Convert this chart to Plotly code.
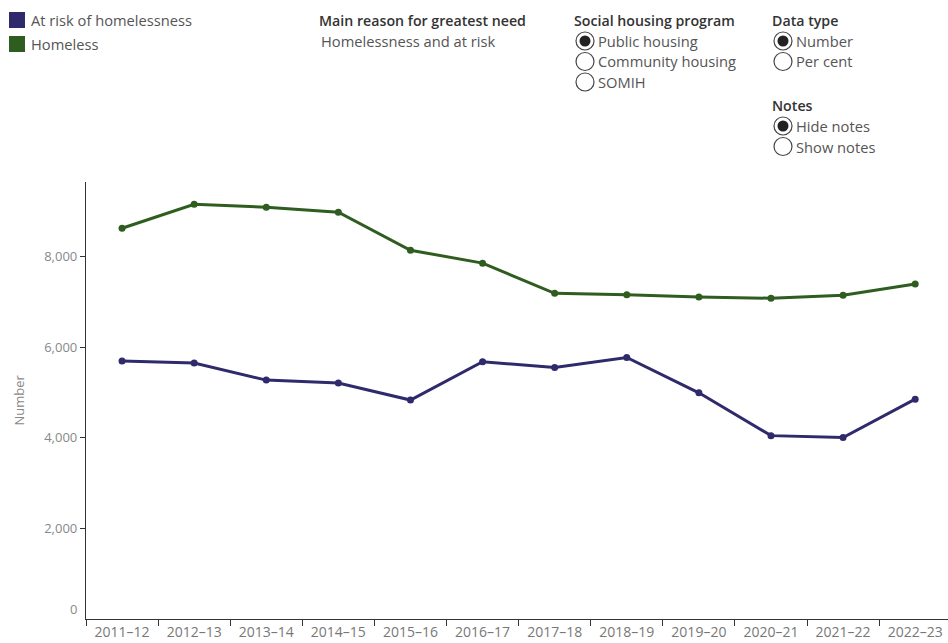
import plotly.graph_objects as go

years = ["2011–12", "2012–13", "2013–14", "2014–15", "2015–16", "2016–17",
         "2017–18", "2018–19", "2019–20", "2020–21", "2021–22", "2022–23"]
at_risk = [5690, 5645, 5270, 5205, 4830, 5675, 5550, 5770, 4990, 4045, 4005, 4850]
homeless = [8620, 9150, 9085, 8975, 8135, 7850, 7185, 7155, 7105, 7075, 7140, 7390]
y_ticks = [2000, 4000, 6000, 8000]
y_tick_text = ["2,000", "4,000", "6,000", "8,000"]

PURPLE = "#2e2a6b"
GREEN = "#2f5c1f"
FONT = "Open Sans"

W, H = 948, 643
L, R, T, B = 86, 0, 182, 24
PW, PH = W - L - R, H - T - B


def px(x):
    return (x - L) / PW


def py(y):
    return (H - B - y) / PH


fig = go.Figure()
fig.add_trace(go.Scatter(x=years, y=homeless, mode="lines+markers", name="Homeless",
                         line=dict(color=GREEN, width=3), marker=dict(size=7, color=GREEN),
                         showlegend=False))
fig.add_trace(go.Scatter(x=years, y=at_risk, mode="lines+markers", name="At risk of homelessness",
                         line=dict(color=PURPLE, width=3), marker=dict(size=7, color=PURPLE),
                         showlegend=False))

shapes = []
annotations = []


def text(x, y, s, color="#555", size=14.7, weight=None):
    f = dict(family=FONT, size=size, color=color)
    if weight:
        f["weight"] = weight
    annotations.append(dict(x=px(x), y=py(y), xref="paper", yref="paper", text=s,
                            showarrow=False, xanchor="left", yanchor="middle", font=f))


# legend
for i, (name, col) in enumerate([("At risk of homelessness", PURPLE), ("Homeless", GREEN)]):
    cy = 20 + i * 24
    shapes.append(dict(type="rect", xref="paper", yref="paper", x0=px(9), x1=px(25),
                       y0=py(cy + 8), y1=py(cy - 8), fillcolor=col, line=dict(width=0)))
    text(29, cy, name)

# filter controls
text(317, 20, "Main reason for greatest need", color="#333", size=14.2, weight=600)
text(319, 41, "Homelessness and at risk")


def radio(cx, cy, selected):
    r = 9
    shapes.append(dict(type="circle", xref="paper", yref="paper", x0=px(cx - r), x1=px(cx + r),
                       y0=py(cy + r), y1=py(cy - r), fillcolor="white",
                       line=dict(color="#444", width=1.2)))
    if selected:
        r2 = 5.5
        shapes.append(dict(type="circle", xref="paper", yref="paper", x0=px(cx - r2), x1=px(cx + r2),
                           y0=py(cy + r2), y1=py(cy - r2), fillcolor="#222", line=dict(width=0)))


text(572, 20, "Social housing program", color="#333", size=14.2, weight=600)
for i, (lab, sel) in enumerate([("Public housing", True), ("Community housing", False), ("SOMIH", False)]):
    cy = 41 + i * 20.5
    radio(585, cy, sel)
    text(596, cy, lab)

text(770, 20, "Data type", color="#333", size=14.2, weight=600)
for i, (lab, sel) in enumerate([("Number", True), ("Per cent", False)]):
    cy = 41 + i * 20.5
    radio(783, cy, sel)
    text(794, cy, lab)

text(770, 105, "Notes", color="#333", size=14.2, weight=600)
for i, (lab, sel) in enumerate([("Hide notes", True), ("Show notes", False)]):
    cy = 126 + i * 20.5
    radio(783, cy, sel)
    text(794, cy, lab)

# zero label (drawn slightly above axis like the original)
annotations.append(dict(x=px(79), y=py(609), xref="paper", yref="paper", text="0", showarrow=False,
                        xanchor="right", yanchor="middle",
                        font=dict(family=FONT, size=13, color="#888")))
# y-axis title
annotations.append(dict(x=px(18), y=0.5, xref="paper", yref="paper", text="Number", showarrow=False,
                        textangle=-90, xanchor="center", yanchor="middle",
                        font=dict(family=FONT, size=13, color="#888")))

fig.update_layout(
    width=W, height=H,
    margin=dict(l=L, r=R, t=T, b=B),
    plot_bgcolor="white", paper_bgcolor="white",
    shapes=shapes, annotations=annotations,
    font=dict(family=FONT, size=13, color="#777"),
    xaxis=dict(type="category", range=[-0.5, 11.455], showgrid=False, zeroline=False,
               showline=True, linecolor="#333", linewidth=1.2,
               ticks="outside", tickson="boundaries", ticklen=6, tickcolor="#333",
               tickfont=dict(family=FONT, size=14, color="#777")),
    yaxis=dict(range=[0, 9640], showgrid=False, zeroline=False, showline=True,
               linecolor="#333", linewidth=1.2, ticks="outside", ticklen=5, tickcolor="#333",
               tickvals=y_ticks, ticktext=y_tick_text,
               tickfont=dict(family=FONT, size=13, color="#888")),
)

fig.write_html("out.html", config={"displayModeBar": False},
               post_script="document.body.style.margin='0';")
